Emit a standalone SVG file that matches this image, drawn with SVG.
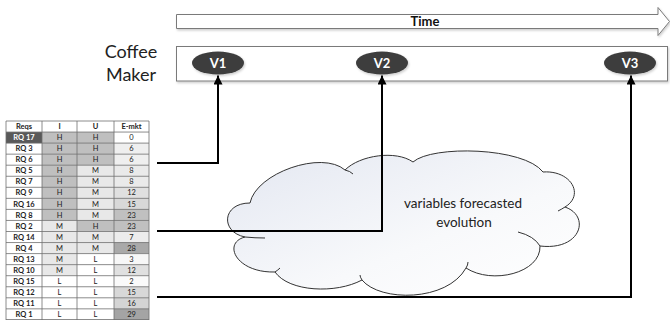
<svg xmlns="http://www.w3.org/2000/svg" width="670" height="320" viewBox="0 0 670 320">
<defs>
<style>
.t{font-family:Lato,"Liberation Sans",sans-serif;font-size:7.5px;fill:#222;text-anchor:middle}
.b{font-weight:bold}
.w{fill:#fff}
.grid line{stroke:#6e6e6e;stroke-width:0.8}
.conn{fill:none;stroke:#000;stroke-width:2}
.var ellipse{fill:#3d3d3d}
.var text{font-family:Lato,"Liberation Sans",sans-serif;font-size:13px;font-weight:bold;fill:#fff;text-anchor:middle}
.hook{fill:none;stroke:#333;stroke-width:1}
</style>
<linearGradient id="cg" x1="0" y1="0" x2="1" y2="1">
<stop offset="0" stop-color="#e3e7f1"/>
<stop offset="0.6" stop-color="#f8f9fb"/>
<stop offset="1" stop-color="#ffffff"/>
</linearGradient>
<filter id="sh" x="-10%" y="-30%" width="120%" height="160%">
<feDropShadow dx="1" dy="1.5" stdDeviation="1" flood-color="#000" flood-opacity="0.2"/>
</filter>
<marker id="ah" viewBox="0 0 10 10" refX="10" refY="5" markerWidth="9" markerHeight="9" markerUnits="userSpaceOnUse" orient="auto">
<path d="M0,0 L10,5 L0,10 z" fill="#000"/>
</marker>
</defs>
<rect width="670" height="320" fill="#fff"/>

<g id="time">
<path d="M176.5,14.5 H658 V7.5 L669.5,21.5 L658,35.5 V28.5 H176.5 Z" fill="#fff" stroke="#7a7a7a" stroke-width="1" filter="url(#sh)"/>
<text x="425" y="26" style="font-family:Lato,'Liberation Sans',sans-serif;font-size:13px;font-weight:bold;fill:#111;text-anchor:middle">Time</text>
</g>

<g id="coffee-maker">
<text style="font-family:Lato,'Liberation Sans',sans-serif;font-size:18px;fill:#222;text-anchor:middle"><tspan x="131" y="58">Coffee</tspan><tspan x="131" y="81">Maker</tspan></text>
<rect x="176.5" y="46.5" width="491" height="34.5" fill="#fff" stroke="#7a7a7a" stroke-width="1" filter="url(#sh)"/>
</g>

<g id="cloud">
<path d="M250,203 C256,173 322,150 345,170 C360,155 396,150 413,162 C432,145 524,147 543,172 C571,170 585,195 565,207 C591,216 581,251 540,246 C541,273 492,285 466,268 C447,302 380,302 362,280 C336,294 289,292 275,272 C236,273 222,243 245,237 C220,232 222,203 250,203 Z" fill="url(#cg)" stroke="#333" stroke-width="1"/>
<path class="hook" d="M345,170 Q350,171 353,174"/>
<path class="hook" d="M565,207 Q562,209 558,211"/>
<path class="hook" d="M540,246 Q534,236 518,232"/>
<path class="hook" d="M466,268 Q468,265 468,262"/>
<path class="hook" d="M362,280 Q360,277 360,275"/>
<path class="hook" d="M275,272 Q278,270 280,268"/>
<path class="hook" d="M245,237 Q255,238 265,238"/>
<text x="463" y="208" style="font-family:Lato,'Liberation Sans',sans-serif;font-size:13.5px;fill:#222;text-anchor:middle">variables forecasted</text>
<text x="464" y="227" style="font-family:Lato,'Liberation Sans',sans-serif;font-size:13.5px;fill:#222;text-anchor:middle">evolution</text>
</g>

<g id="v1" class="var"><ellipse cx="218" cy="63" rx="26" ry="11.5" filter="url(#sh)"/><text x="218" y="67.5">V1</text></g>
<g id="v2" class="var"><ellipse cx="382" cy="63" rx="26" ry="11.5" filter="url(#sh)"/><text x="382" y="67.5">V2</text></g>
<g id="v3" class="var"><ellipse cx="630" cy="63" rx="26" ry="11.5" filter="url(#sh)"/><text x="630" y="67.5">V3</text></g>

<g id="connectors">
<polyline class="conn" points="157,163 218,163 218,75.5" marker-end="url(#ah)"/>
<polyline class="conn" points="157,231 382,231 382,75.5" marker-end="url(#ah)"/>
<polyline class="conn" points="157,297 631,297 631,75.5" marker-end="url(#ah)"/>
</g>

<g id="table">
<g transform="translate(0,121)">
<rect x="6" y="0" width="143" height="11.05" fill="#fff"/>
<text class="t b" x="24" y="8.2">Reqs</text><text class="t b" x="59.5" y="8.2">I</text><text class="t b" x="95.5" y="8.2">U</text><text class="t b" x="131.5" y="8.2">E-mkt</text>
</g>
<g transform="translate(0,132.05)">
<rect x="6" width="36" height="11.05" fill="#595959"/><rect x="42" width="35" height="11.05" fill="#bfbfbf"/><rect x="77" width="37" height="11.05" fill="#bfbfbf"/><rect x="114" width="35" height="11.05" fill="#ffffff"/>
<text class="t b w" x="24" y="8.2">RQ 17</text><text class="t" x="59.5" y="8.2">H</text><text class="t" x="95.5" y="8.2">H</text><text class="t" x="131.5" y="8.2">0</text>
</g>
<g transform="translate(0,143.1)">
<rect x="42" width="35" height="11.05" fill="#bfbfbf"/><rect x="77" width="37" height="11.05" fill="#bfbfbf"/><rect x="114" width="35" height="11.05" fill="#efefef"/>
<text class="t b" x="24" y="8.2">RQ 3</text><text class="t" x="59.5" y="8.2">H</text><text class="t" x="95.5" y="8.2">H</text><text class="t" x="131.5" y="8.2">6</text>
</g>
<g transform="translate(0,154.15)">
<rect x="42" width="35" height="11.05" fill="#bfbfbf"/><rect x="77" width="37" height="11.05" fill="#bfbfbf"/><rect x="114" width="35" height="11.05" fill="#efefef"/>
<text class="t b" x="24" y="8.2">RQ 6</text><text class="t" x="59.5" y="8.2">H</text><text class="t" x="95.5" y="8.2">H</text><text class="t" x="131.5" y="8.2">6</text>
</g>
<g transform="translate(0,165.2)">
<rect x="42" width="35" height="11.05" fill="#bfbfbf"/><rect x="77" width="37" height="11.05" fill="#e8e8e8"/><rect x="114" width="35" height="11.05" fill="#eaeaea"/>
<text class="t b" x="24" y="8.2">RQ 5</text><text class="t" x="59.5" y="8.2">H</text><text class="t" x="95.5" y="8.2">M</text><text class="t" x="131.5" y="8.2">8</text>
</g>
<g transform="translate(0,176.25)">
<rect x="42" width="35" height="11.05" fill="#bfbfbf"/><rect x="77" width="37" height="11.05" fill="#e8e8e8"/><rect x="114" width="35" height="11.05" fill="#eaeaea"/>
<text class="t b" x="24" y="8.2">RQ 7</text><text class="t" x="59.5" y="8.2">H</text><text class="t" x="95.5" y="8.2">M</text><text class="t" x="131.5" y="8.2">8</text>
</g>
<g transform="translate(0,187.3)">
<rect x="42" width="35" height="11.05" fill="#bfbfbf"/><rect x="77" width="37" height="11.05" fill="#e8e8e8"/><rect x="114" width="35" height="11.05" fill="#e0e0e0"/>
<text class="t b" x="24" y="8.2">RQ 9</text><text class="t" x="59.5" y="8.2">H</text><text class="t" x="95.5" y="8.2">M</text><text class="t" x="131.5" y="8.2">12</text>
</g>
<g transform="translate(0,198.35)">
<rect x="42" width="35" height="11.05" fill="#bfbfbf"/><rect x="77" width="37" height="11.05" fill="#e8e8e8"/><rect x="114" width="35" height="11.05" fill="#d8d8d8"/>
<text class="t b" x="24" y="8.2">RQ 16</text><text class="t" x="59.5" y="8.2">H</text><text class="t" x="95.5" y="8.2">M</text><text class="t" x="131.5" y="8.2">15</text>
</g>
<g transform="translate(0,209.4)">
<rect x="42" width="35" height="11.05" fill="#bfbfbf"/><rect x="77" width="37" height="11.05" fill="#e8e8e8"/><rect x="114" width="35" height="11.05" fill="#c0c0c0"/>
<text class="t b" x="24" y="8.2">RQ 8</text><text class="t" x="59.5" y="8.2">H</text><text class="t" x="95.5" y="8.2">M</text><text class="t" x="131.5" y="8.2">23</text>
</g>
<g transform="translate(0,220.45)">
<rect x="42" width="35" height="11.05" fill="#e8e8e8"/><rect x="77" width="37" height="11.05" fill="#bfbfbf"/><rect x="114" width="35" height="11.05" fill="#c0c0c0"/>
<text class="t b" x="24" y="8.2">RQ 2</text><text class="t" x="59.5" y="8.2">M</text><text class="t" x="95.5" y="8.2">H</text><text class="t" x="131.5" y="8.2">23</text>
</g>
<g transform="translate(0,231.5)">
<rect x="42" width="35" height="11.05" fill="#e8e8e8"/><rect x="77" width="37" height="11.05" fill="#e8e8e8"/><rect x="114" width="35" height="11.05" fill="#ececec"/>
<text class="t b" x="24" y="8.2">RQ 14</text><text class="t" x="59.5" y="8.2">M</text><text class="t" x="95.5" y="8.2">M</text><text class="t" x="131.5" y="8.2">7</text>
</g>
<g transform="translate(0,242.55)">
<rect x="42" width="35" height="11.05" fill="#e8e8e8"/><rect x="77" width="37" height="11.05" fill="#e8e8e8"/><rect x="114" width="35" height="11.05" fill="#a9a9a9"/>
<text class="t b" x="24" y="8.2">RQ 4</text><text class="t" x="59.5" y="8.2">M</text><text class="t" x="95.5" y="8.2">M</text><text class="t" x="131.5" y="8.2">28</text>
</g>
<g transform="translate(0,253.6)">
<rect x="42" width="35" height="11.05" fill="#e8e8e8"/><rect x="114" width="35" height="11.05" fill="#f7f7f7"/>
<text class="t b" x="24" y="8.2">RQ 13</text><text class="t" x="59.5" y="8.2">M</text><text class="t" x="95.5" y="8.2">L</text><text class="t" x="131.5" y="8.2">3</text>
</g>
<g transform="translate(0,264.65)">
<rect x="42" width="35" height="11.05" fill="#e8e8e8"/><rect x="114" width="35" height="11.05" fill="#e0e0e0"/>
<text class="t b" x="24" y="8.2">RQ 10</text><text class="t" x="59.5" y="8.2">M</text><text class="t" x="95.5" y="8.2">L</text><text class="t" x="131.5" y="8.2">12</text>
</g>
<g transform="translate(0,275.7)">
<rect x="114" width="35" height="11.05" fill="#fafafa"/>
<text class="t b" x="24" y="8.2">RQ 15</text><text class="t" x="59.5" y="8.2">L</text><text class="t" x="95.5" y="8.2">L</text><text class="t" x="131.5" y="8.2">2</text>
</g>
<g transform="translate(0,286.75)">
<rect x="114" width="35" height="11.05" fill="#d8d8d8"/>
<text class="t b" x="24" y="8.2">RQ 12</text><text class="t" x="59.5" y="8.2">L</text><text class="t" x="95.5" y="8.2">L</text><text class="t" x="131.5" y="8.2">15</text>
</g>
<g transform="translate(0,297.8)">
<rect x="114" width="35" height="11.05" fill="#d4d4d4"/>
<text class="t b" x="24" y="8.2">RQ 11</text><text class="t" x="59.5" y="8.2">L</text><text class="t" x="95.5" y="8.2">L</text><text class="t" x="131.5" y="8.2">16</text>
</g>
<g transform="translate(0,308.85)">
<rect x="114" width="35" height="11.05" fill="#a4a4a4"/>
<text class="t b" x="24" y="8.2">RQ 1</text><text class="t" x="59.5" y="8.2">L</text><text class="t" x="95.5" y="8.2">L</text><text class="t" x="131.5" y="8.2">29</text>
</g>
<g class="grid">
<line x1="6" y1="121" x2="6" y2="320"/><line x1="42" y1="121" x2="42" y2="320"/><line x1="77" y1="121" x2="77" y2="320"/><line x1="114" y1="121" x2="114" y2="320"/><line x1="149" y1="121" x2="149" y2="320"/>
<line x1="6" y1="121" x2="149" y2="121"/><line x1="6" y1="132.05" x2="149" y2="132.05"/><line x1="6" y1="143.1" x2="149" y2="143.1"/><line x1="6" y1="154.15" x2="149" y2="154.15"/><line x1="6" y1="165.2" x2="149" y2="165.2"/><line x1="6" y1="176.25" x2="149" y2="176.25"/><line x1="6" y1="187.3" x2="149" y2="187.3"/><line x1="6" y1="198.35" x2="149" y2="198.35"/><line x1="6" y1="209.4" x2="149" y2="209.4"/><line x1="6" y1="220.45" x2="149" y2="220.45"/><line x1="6" y1="231.5" x2="149" y2="231.5"/><line x1="6" y1="242.55" x2="149" y2="242.55"/><line x1="6" y1="253.6" x2="149" y2="253.6"/><line x1="6" y1="264.65" x2="149" y2="264.65"/><line x1="6" y1="275.7" x2="149" y2="275.7"/><line x1="6" y1="286.75" x2="149" y2="286.75"/><line x1="6" y1="297.8" x2="149" y2="297.8"/><line x1="6" y1="308.85" x2="149" y2="308.85"/><line x1="6" y1="319.5" x2="149" y2="319.5"/>
</g>
</g>
</svg>
